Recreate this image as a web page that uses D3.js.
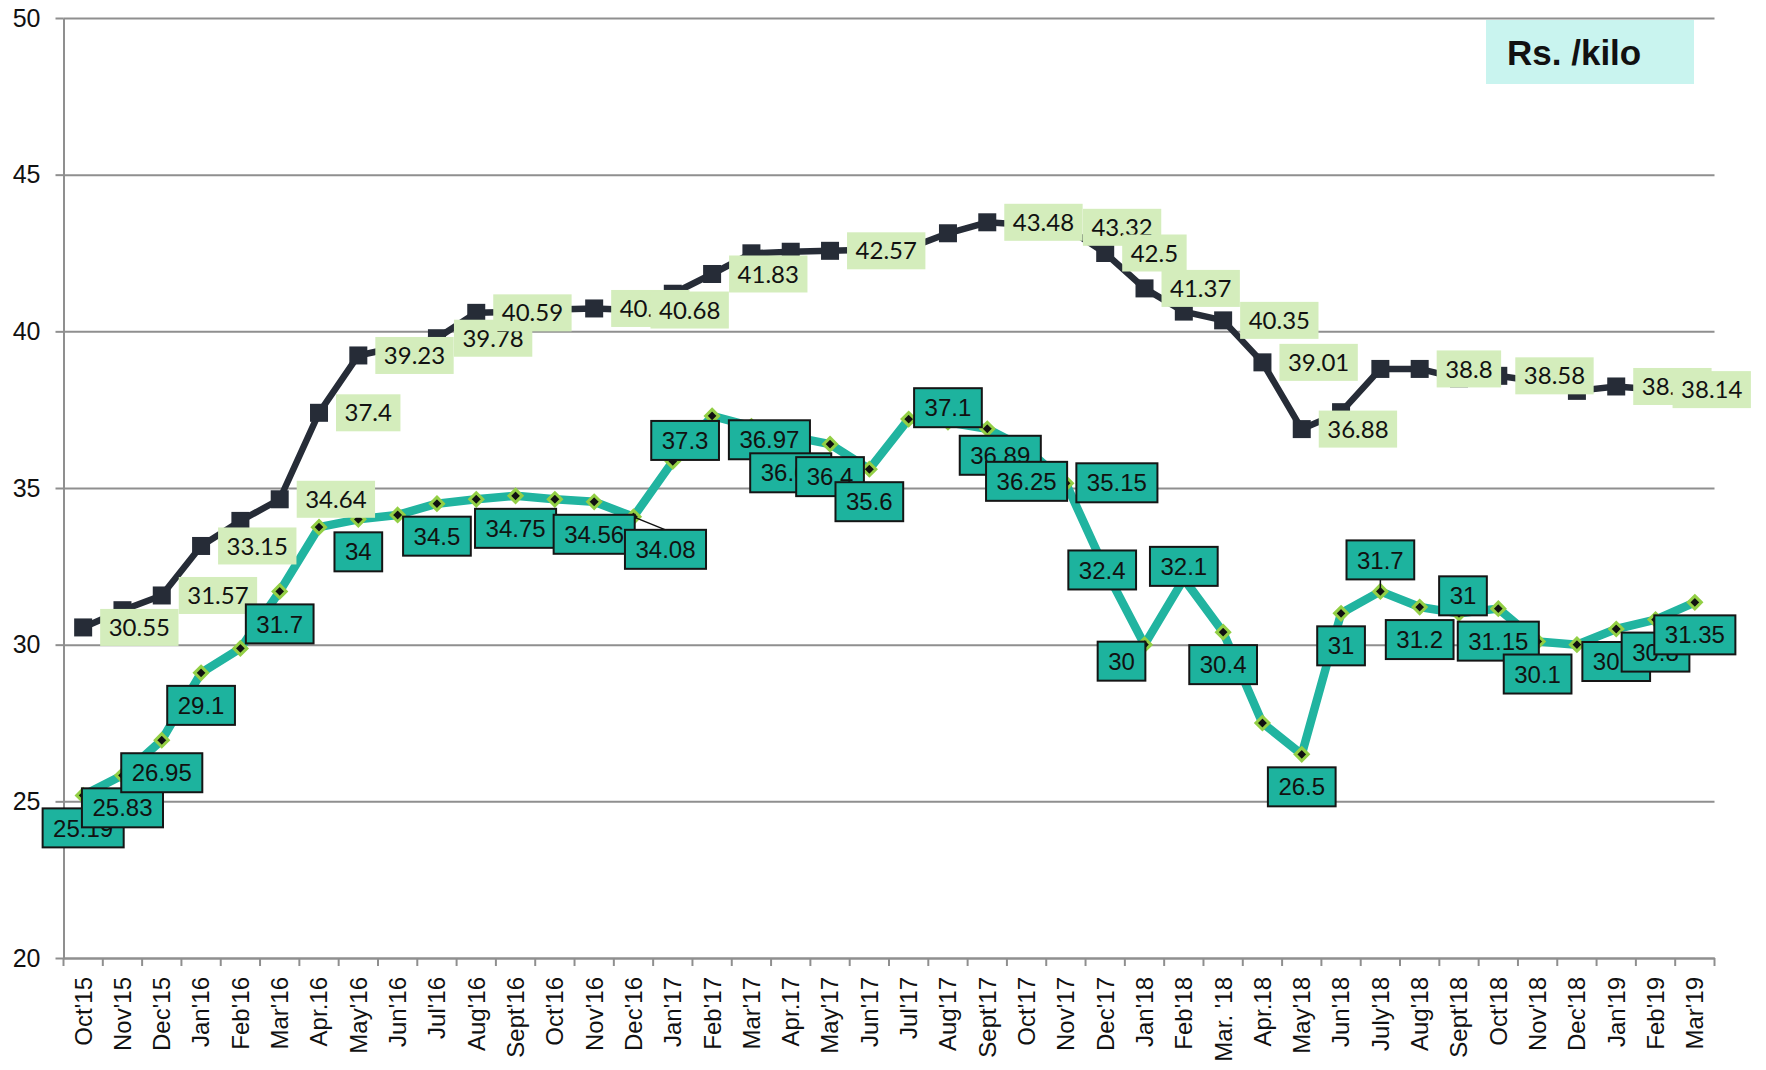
<!DOCTYPE html>
<html>
<head>
<meta charset="utf-8">
<script src="https://cdn.jsdelivr.net/npm/d3@7"></script>
<style>
  html, body { margin: 0; padding: 0; background: #fff; }
  svg { display: block; }
</style>
</head>
<body>
<svg id="chart" width="1766" height="1070"></svg>
<script>
// Monthly categories on the x axis
const months = [
  "Oct'15", "Nov'15", "Dec'15", "Jan'16", "Feb'16", "Mar'16", "Apr.16", "May'16",
  "Jun'16", "Jul'16", "Aug'16", "Sept'16", "Oct'16", "Nov'16", "Dec'16", "Jan'17",
  "Feb'17", "Mar'17", "Apr.17", "May'17", "Jun'17", "Jul'17", "Aug'17", "Sept'17",
  "Oct'17", "Nov'17", "Dec'17", "Jan'18", "Feb'18", "Mar. '18", "Apr.18", "May'18",
  "Jun'18", "July'18", "Aug'18", "Sept'18", "Oct'18", "Nov'18", "Dec'18", "Jan'19",
  "Feb'19", "Mar'19"
];

// y-axis ticks (Rs. per kilo)
const yTicks = [20, 25, 30, 35, 40, 45, 50];

// Upper series (dark line, square markers)
const seriesNavy = [
  30.55, 31.1, 31.57, 33.15, 33.95, 34.64, 37.4, 39.23,
  39.5, 39.78, 40.59, 40.62, 40.7, 40.73, 40.68, 41.2,
  41.83, 42.49, 42.54, 42.57, 42.6, 42.65, 43.13, 43.48,
  43.4, 43.32, 42.5, 41.37, 40.63, 40.35, 39.01, 36.88,
  37.42, 38.8, 38.8, 38.5, 38.58, 38.4, 38.1, 38.24,
  38.14, 38.1
];

// Lower series (teal line, diamond markers)
const seriesTeal = [
  25.19, 25.83, 26.95, 29.1, 29.88, 31.7, 33.75, 34,
  34.14, 34.5, 34.64, 34.75, 34.64, 34.56, 34.08, 35.85,
  37.3, 36.97, 36.65, 36.4, 35.6, 37.2, 37.1, 36.89,
  36.25, 35.15, 32.4, 30, 32.1, 30.4, 27.5, 26.5,
  31, 31.7, 31.2, 31, 31.15, 30.1, 30, 30.5,
  30.8, 31.35
];

// Which points carry a value label
const navyLabelled = [0, 2, 3, 5, 6, 7, 9, 10, 13, 14, 16, 19, 23, 25, 26, 27, 29, 30, 31, 34, 36, 39, 40];
const tealUnlabelled = [4, 6, 8, 10, 12, 15, 21, 30, 38];

const unitLabel = "Rs. /kilo";

// ---- layout ----
const plot = { left: 63.5, right: 1714.5, top: 18, bottom: 958 };
const svg = d3.select("#chart");

const x = d3.scaleBand().domain(months).range([plot.left, plot.right]).padding(0);
const cx = i => x(months[i]) + x.bandwidth() / 2;
const y = d3.scaleLinear().domain([20, 50]).range([plot.bottom, plot.top]);

const gridColor = "#8f8f8f";
const labelFont = "'Liberation Sans', Arial, sans-serif";

// horizontal gridlines
svg.append("g")
  .attr("transform", `translate(${plot.left},0)`)
  .call(d3.axisLeft(y).tickValues(yTicks).tickSize(-(plot.right - plot.left)).tickFormat(""))
  .call(g => g.select(".domain").remove())
  .call(g => g.selectAll(".tick line").attr("stroke", gridColor).attr("stroke-width", 2));

// y axis with outer ticks and labels
svg.append("g")
  .attr("transform", `translate(${plot.left},0)`)
  .call(d3.axisLeft(y).tickValues(yTicks).tickSize(8).tickSizeOuter(0).tickPadding(15))
  .call(g => g.select(".domain").attr("stroke", gridColor).attr("stroke-width", 2))
  .call(g => g.selectAll(".tick line").attr("stroke", gridColor).attr("stroke-width", 2))
  .call(g => g.selectAll(".tick text")
    .attr("font-family", labelFont).attr("font-size", 25).attr("fill", "#111"));

// x axis: category labels rotated, tick marks at category boundaries
const xAxis = svg.append("g")
  .attr("transform", `translate(0,${plot.bottom})`)
  .call(d3.axisBottom(x).tickSize(0).tickSizeOuter(0))
  .call(g => g.select(".domain").attr("stroke", gridColor).attr("stroke-width", 2));
xAxis.selectAll(".tick text")
  .attr("font-family", labelFont).attr("font-size", 24).attr("fill", "#111")
  .attr("transform", "rotate(-90)")
  .attr("text-anchor", "end")
  .attr("x", -19).attr("y", 0).attr("dy", "0.35em");
xAxis.selectAll(".boundary")
  .data(d3.range(months.length + 1))
  .join("line")
  .attr("class", "boundary")
  .attr("x1", i => plot.left + i * x.bandwidth())
  .attr("x2", i => plot.left + i * x.bandwidth())
  .attr("y1", 0).attr("y2", 8)
  .attr("stroke", gridColor).attr("stroke-width", 2);

// ---- upper series ----
const navy = "#262c37";
const lineGen = d3.line().x((d, i) => cx(i)).y(d => y(d));

svg.append("path")
  .datum(seriesNavy)
  .attr("d", lineGen)
  .attr("fill", "none").attr("stroke", navy).attr("stroke-width", 6.5)
  .attr("stroke-linejoin", "round");

svg.append("g").selectAll("rect")
  .data(seriesNavy)
  .join("rect")
  .attr("x", (d, i) => cx(i) - 9).attr("y", d => y(d) - 9)
  .attr("width", 18).attr("height", 18)
  .attr("fill", navy);

// ---- lower series ----
const teal = "#21b4a0";
svg.append("path")
  .datum(seriesTeal)
  .attr("d", lineGen)
  .attr("fill", "none").attr("stroke", teal).attr("stroke-width", 8.5)
  .attr("stroke-linejoin", "round").attr("stroke-linecap", "round");

svg.append("g").selectAll("path")
  .data(seriesTeal)
  .join("path")
  .attr("transform", (d, i) => `translate(${cx(i)},${y(d)})`)
  .attr("d", "M0,-6.5L6.5,0L0,6.5L-6.5,0Z")
  .attr("fill", "#111").attr("stroke", "#93cf45").attr("stroke-width", 3);

// ---- value labels, upper series: to the right of each point ----
const navyLabels = svg.append("g");
navyLabelled.forEach(i => {
  const v = seriesNavy[i];
  const g = navyLabels.append("g").attr("transform", `translate(${cx(i) + 17},${y(v)})`);
  const rect = g.append("rect").attr("fill", "#d4edbc");
  const t = g.append("text")
    .attr("x", 8.5).attr("dy", "0.36em")
    .attr("font-family", "Lato, 'Open Sans', sans-serif").attr("font-size", 24)
    .attr("fill", "#111").text(v);
  const w = t.node().getComputedTextLength() + 17;
  rect.attr("x", 0).attr("y", -18.5).attr("width", w).attr("height", 37);
});

// ---- value labels, lower series: boxed, below each point unless moved ----
const tealNudge = {
  14: { dx: 32, dy: 0, leader: true },
  16: { dx: -27, dy: -8 },
  17: { dx: 18, dy: -19 },
  18: { dx: 0, dy: 4 },
  22: { dx: 0, dy: -47 },
  23: { dx: 13, dy: -6 },
  25: { dx: 51, dy: -33 },
  26: { dx: -3, dy: -32 },
  27: { dx: -23, dy: -16 },
  28: { dx: 0, dy: -45 },
  33: { dx: 0, dy: -64, leader: true },
  35: { dx: 4, dy: -50 }
};
const boxH = 39, gap = 13;
const tealIdx = d3.range(seriesTeal.length).filter(i => !tealUnlabelled.includes(i));

const leaders = svg.append("g");
const tealLabels = svg.append("g");
tealIdx.forEach(i => {
  const v = seriesTeal[i];
  const n = tealNudge[i] || { dx: 0, dy: 0 };
  const bx = cx(i) + n.dx;
  const top = y(v) + gap + n.dy;
  if (n.leader) {
    const toY = top > y(v) ? top : top + boxH;
    leaders.append("line")
      .attr("x1", cx(i)).attr("y1", y(v)).attr("x2", bx).attr("y2", toY)
      .attr("stroke", "#111").attr("stroke-width", 1.5);
  }
  const g = tealLabels.append("g").attr("transform", `translate(${bx},${top})`);
  const rect = g.append("rect").attr("fill", "#1db39e").attr("stroke", "#151515").attr("stroke-width", 2);
  const t = g.append("text")
    .attr("x", 0).attr("y", boxH / 2).attr("dy", "0.36em")
    .attr("text-anchor", "middle")
    .attr("font-family", labelFont).attr("font-size", 24)
    .attr("fill", "#111").text(v);
  const w = t.node().getComputedTextLength() + 21;
  rect.attr("x", -w / 2).attr("y", 0).attr("width", w).attr("height", boxH);
});

// ---- unit caption ----
const cap = svg.append("g").attr("transform", "translate(1486,20)");
cap.append("rect").attr("width", 208).attr("height", 64).attr("fill", "#c9f4ef");
cap.append("text")
  .attr("x", 21).attr("y", 45)
  .attr("font-family", labelFont).attr("font-size", 35).attr("font-weight", "bold")
  .attr("fill", "#111").text(unitLabel);
</script>
</body>
</html>
